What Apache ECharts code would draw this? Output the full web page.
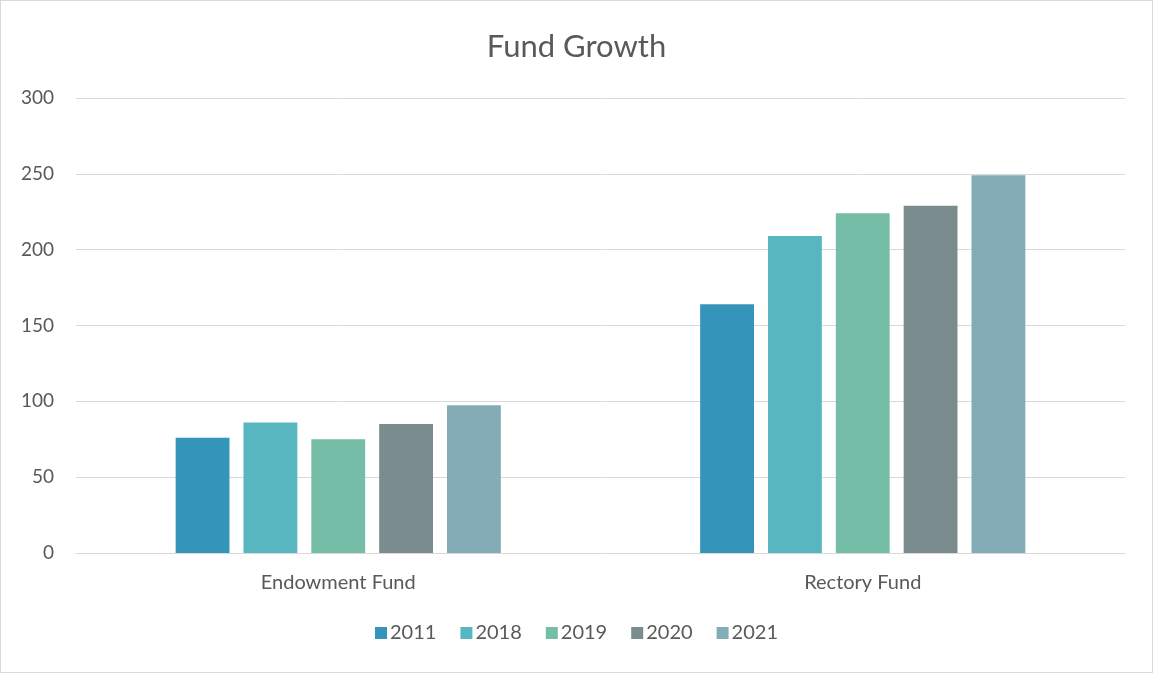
<!DOCTYPE html>
<html>
<head>
<meta charset="utf-8">
<script src="https://cdn.jsdelivr.net/npm/echarts@6/dist/echarts.min.js"></script>
<style>
html,body{margin:0;padding:0;background:#fff;}
#chart{width:1151px;height:671px;border:1px solid #d9d9d9;}
</style>
</head>
<body>
<div id="chart"></div>
<script>
const categories = ["Endowment Fund", "Rectory Fund"];
const seriesNames = ["2011", "2018", "2019", "2020", "2021"];
const v2011 = [76, 164];
const v2018 = [86, 209];
const v2019 = [75, 224];
const v2020 = [85, 229];
const v2021 = [97.5, 249];
const yTicks = [0, 50, 100, 150, 200, 250, 300];

const colors = ["#3494BA", "#58B6C0", "#75BDA7", "#7A8C8E", "#84ACB6"];
const allValues = [v2011, v2018, v2019, v2020, v2021];
const font = "Lato, 'Open Sans', sans-serif";

const chart = echarts.init(document.getElementById('chart'));
chart.setOption({
  animation: false,
  color: colors,
  title: {
    text: "Fund Growth",
    left: 'center',
    top: 25,
    textStyle: {fontFamily: font, fontSize: 31, fontWeight: 'normal', color: '#595959'}
  },
  legend: {
    bottom: 24,
    left: 'center',
    itemWidth: 12,
    itemHeight: 12,
    itemGap: 24,
    icon: 'rect',
    textStyle: {fontFamily: font, fontSize: 20, color: '#595959', padding: [0,0,0,-2]},
    data: seriesNames
  },
  grid: {left: 75, right: 27, top: 97, bottom: 119},
  xAxis: {
    type: 'category',
    data: categories,
    axisLine: {lineStyle: {color: '#d9d9d9', width: 1}},
    axisTick: {show: false},
    axisLabel: {fontFamily: font, fontSize: 20, color: '#595959', margin: 20}
  },
  yAxis: {
    type: 'value',
    min: yTicks[0],
    max: yTicks[yTicks.length - 1],
    interval: 50,
    axisLine: {show: false},
    axisTick: {show: false},
    splitLine: {lineStyle: {color: '#d9d9d9', width: 1}},
    axisLabel: {fontFamily: font, fontSize: 19, color: '#595959', margin: 22}
  },
  series: seriesNames.map((n, i) => ({
    name: n,
    type: 'bar',
    data: allValues[i],
    barGap: '26%',
    barCategoryGap: '38%',
    itemStyle: {color: colors[i]}
  }))
});
</script>
</body>
</html>
